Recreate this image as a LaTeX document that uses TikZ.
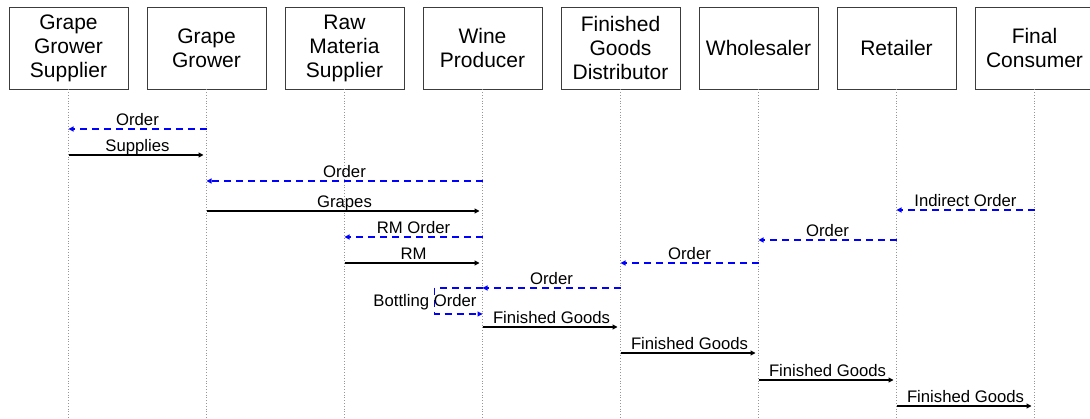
\documentclass[tikz,border=0pt]{standalone}
\usepackage{fontspec}
\setmainfont{Liberation Sans}
\usepackage{xcolor}
\usetikzlibrary{positioning, arrows.meta}
\definecolor{ordblue}{RGB}{0,0,255}
\definecolor{lifegray}{RGB}{150,150,150}
\definecolor{boxline}{RGB}{60,60,60}

\begin{document}
\begin{tikzpicture}[x=1pt, y=-1pt,
  actor/.style={rectangle, draw=boxline, line width=0.9pt, minimum width=119pt, minimum height=82pt, inner sep=0pt, align=center, font=\fontsize{21}{24}\selectfont},
  life/.style={draw=lifegray, dotted, line width=0.8pt},
  order/.style={ordblue, dash pattern=on 7pt off 5pt, line width=1.1pt, -{Triangle[length=5pt, width=5pt]}},
  goods/.style={black, line width=1.1pt, -{Triangle[length=5pt, width=5pt, sep=3pt]}},
  lbl/.style={anchor=base, yshift=3pt, inner sep=0pt, text=black, font=\fontsize{16.7}{19}\selectfont},
  node distance=18.1pt
]
\useasboundingbox (0,0) rectangle (1090,419);

\node[actor] (ggs) at (68.5,48) {Grape\\Grower\\Supplier};
\node[actor, right=of ggs] (gg) {Grape\\Grower};
\node[actor, right=of gg] (rms) {Raw\\Materia\\Supplier};
\node[actor, right=of rms] (wp) {Wine\\Producer};
\node[actor, right=of wp] (fgd) {Finished\\Goods\\Distributor};
\node[actor, right=of fgd] (ws) {Wholesaler};
\node[actor, right=of ws] (rt) {Retailer};
\node[actor, right=of rt] (fc) {Final\\Consumer};

% lifelines
\foreach \n in {ggs,gg,rms,wp,fgd,ws,rt,fc}
  \draw[life] (\n.south) -- (\n.south |- 0,419);

% messages
\draw[order] (gg.south |- 0,129) -- node[lbl] {Order} (ggs.south |- 0,129);
\draw[goods] (ggs.south |- 0,155) -- node[lbl] {Supplies} (gg.south |- 0,155);
\draw[order] (wp.south |- 0,181) -- node[lbl] {Order} (gg.south |- 0,181);
\draw[goods] (gg.south |- 0,211) -- node[lbl] {Grapes} (wp.south |- 0,211);
\draw[order] (fc.south |- 0,210) -- node[lbl] {Indirect Order} (rt.south |- 0,210);
\draw[order] (wp.south |- 0,237) -- node[lbl] {RM Order} (rms.south |- 0,237);
\draw[order] (rt.south |- 0,240) -- node[lbl] {Order} (ws.south |- 0,240);
\draw[goods] (rms.south |- 0,263) -- node[lbl] {RM} (wp.south |- 0,263);
\draw[order] (ws.south |- 0,263) -- node[lbl] {Order} (fgd.south |- 0,263);
\draw[order] (fgd.south |- 0,288) -- node[lbl] {Order} (wp.south |- 0,288);

% self message
\draw[order] (wp.south |- 0,288) -- ++(-48,0) -- ++(0,26) -- (wp.south |- 0,314);
\node[anchor=base, inner sep=0pt, font=\fontsize{16.7}{19}\selectfont] (bottling) at (425,307) {Bottling Order};

\draw[goods] (wp.south |- 0,327) -- node[lbl] {Finished Goods} (fgd.south |- 0,327);
\draw[goods] (fgd.south |- 0,353) -- node[lbl] {Finished Goods} (ws.south |- 0,353);
\draw[goods] (ws.south |- 0,380) -- node[lbl] {Finished Goods} (rt.south |- 0,380);
\draw[goods] (rt.south |- 0,406) -- node[lbl] {Finished Goods} (fc.south |- 0,406);
\end{tikzpicture}
\end{document}
